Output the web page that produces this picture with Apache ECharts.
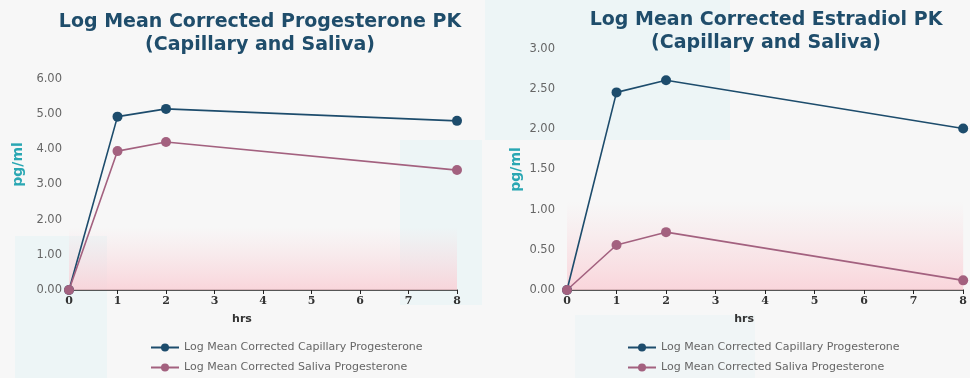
<!DOCTYPE html>
<html>
<head>
<meta charset="utf-8">
<script src="https://cdn.jsdelivr.net/npm/echarts@6/dist/echarts.min.js"></script>
<style>
  html, body { margin: 0; padding: 0; background: #f7f7f7; }
  #main { width: 970px; height: 378px; }
</style>
</head>
<body>
<div id="main"></div>
<script>
// hours of sampling
const hours = [0, 1, 2, 8];

// progesterone (left panel)
const progCapillary = [0.0, 4.93, 5.15, 4.81];
const progSaliva = [0.0, 3.95, 4.21, 3.41];

// estradiol (right panel)
const estCapillary = [0.0, 2.46, 2.61, 2.01];
const estSaliva = [0.0, 0.56, 0.72, 0.12];

const legendNames = [
  'Log Mean Corrected Capillary Progesterone',
  'Log Mean Corrected Saliva Progesterone'
];

const navy = '#1d4c6c';
const mauve = '#a3617f';

const chartDom = document.getElementById('main');
const myChart = echarts.init(chartDom);

const pair = (xs, ys) => xs.map((x, i) => [x, ys[i]]);

const pinkFade = {
  type: 'linear', x: 0, y: 0, x2: 0, y2: 1,
  colorStops: [
    { offset: 0, color: 'rgba(250,215,220,0)' },
    { offset: 1, color: 'rgba(250,205,212,0.8)' }
  ]
};

const lineSeries = (name, data, color, idx, withArea, areaTop) => ({
  name: name,
  type: 'line',
  xAxisIndex: idx,
  yAxisIndex: idx,
  data: data,
  symbol: 'circle',
  symbolSize: 10,
  clip: false,
  z: 5,
  lineStyle: { color: color, width: 1.6 },
  itemStyle: { color: color },
  markArea: withArea ? {
    silent: true,
    itemStyle: { color: pinkFade },
    data: [[{ yAxis: 0 }, { yAxis: areaTop }]]
  } : undefined
});

const xAxisCommon = {
  type: 'value',
  min: 0,
  max: 8,
  interval: 1,
  name: 'hrs',
  nameLocation: 'middle',
  nameGap: 24,
  nameTextStyle: { color: '#333', fontSize: 11, fontWeight: 'bold', fontFamily: 'DejaVu Sans', padding: [0, 42, 0, 0] },
  axisLine: { show: true, lineStyle: { color: '#222', width: 1.5 } },
  axisTick: { show: true, inside: false, length: 4, lineStyle: { color: '#222' } },
  axisLabel: { color: '#333', fontSize: 11, fontWeight: 'bold', fontFamily: 'DejaVu Serif', margin: 6 },
  splitLine: { show: false }
};

const yNameStyle = { color: '#2aa7b3', fontSize: 14, fontWeight: 'bold', fontFamily: 'DejaVu Sans' };

const yAxisCommon = {
  type: 'value',
  min: 0,
  name: 'pg/ml',
  nameLocation: 'middle',
  nameTextStyle: yNameStyle,
  axisLine: { show: false },
  axisTick: { show: false },
  splitLine: { show: false },
  axisLabel: {
    color: '#666',
    fontSize: 11.5,
    fontFamily: 'DejaVu Sans',
    formatter: v => v.toFixed(2)
  }
};

const titleStyle = {
  color: '#1f4d6b',
  fontSize: 19,
  fontWeight: 'bold',
  fontFamily: 'DejaVu Sans',
  lineHeight: 23
};

const legendCommon = {
  orient: 'vertical',
  data: legendNames,
  itemWidth: 28,
  itemHeight: 10,
  itemGap: 9,
  textStyle: { color: '#666', fontSize: 11, fontFamily: 'DejaVu Sans' }
};

const option = {
  backgroundColor: '#f7f7f7',
  animation: false,
  graphic: [
    { type: 'rect', shape: { x: 485, y: 0, width: 245, height: 140 }, style: { fill: 'rgba(215,242,244,0.3)' }, z: -10 },
    { type: 'rect', shape: { x: 15, y: 236, width: 92, height: 142 }, style: { fill: 'rgba(215,242,244,0.3)' }, z: -10 },
    { type: 'rect', shape: { x: 400, y: 140, width: 82, height: 165 }, style: { fill: 'rgba(215,242,244,0.3)' }, z: -10 },
    { type: 'rect', shape: { x: 575, y: 315, width: 180, height: 63 }, style: { fill: 'rgba(215,242,244,0.2)' }, z: -10 }
  ],
  title: [
    {
      text: 'Log Mean Corrected Progesterone PK\n(Capillary and Saliva)',
      left: 255,
      top: 6,
      textAlign: 'center',
      textStyle: titleStyle
    },
    {
      text: 'Log Mean Corrected Estradiol PK\n(Capillary and Saliva)',
      left: 761,
      top: 4,
      textAlign: 'center',
      textStyle: titleStyle
    }
  ],
  legend: [
    Object.assign({ left: 145, top: 337 }, legendCommon),
    Object.assign({ left: 622, top: 337 }, legendCommon)
  ],
  grid: [
    { left: 69, right: 513, top: 79, bottom: 88 },
    { left: 567, right: 4, top: 49, bottom: 88 }
  ],
  xAxis: [
    Object.assign({ gridIndex: 0 }, xAxisCommon),
    Object.assign({ gridIndex: 1 }, xAxisCommon)
  ],
  yAxis: [
    Object.assign({}, yAxisCommon, {
      gridIndex: 0, max: 6, interval: 1, nameGap: 44,
      nameTextStyle: Object.assign({}, yNameStyle, { padding: [0, 0, 0, 40] }),
      axisLabel: Object.assign({}, yAxisCommon.axisLabel, { margin: 7 })
    }),
    Object.assign({}, yAxisCommon, {
      gridIndex: 1, max: 3, interval: 0.5, nameGap: 44,
      axisLabel: Object.assign({}, yAxisCommon.axisLabel, { margin: 12 })
    })
  ],
  series: [
    lineSeries(legendNames[0], pair(hours, progCapillary), navy, 0, true, 1.8),
    lineSeries(legendNames[1], pair(hours, progSaliva), mauve, 0, false),
    lineSeries(legendNames[0], pair(hours, estCapillary), navy, 1, true, 1.1),
    lineSeries(legendNames[1], pair(hours, estSaliva), mauve, 1, false)
  ]
};

option && myChart.setOption(option);
</script>
</body>
</html>
